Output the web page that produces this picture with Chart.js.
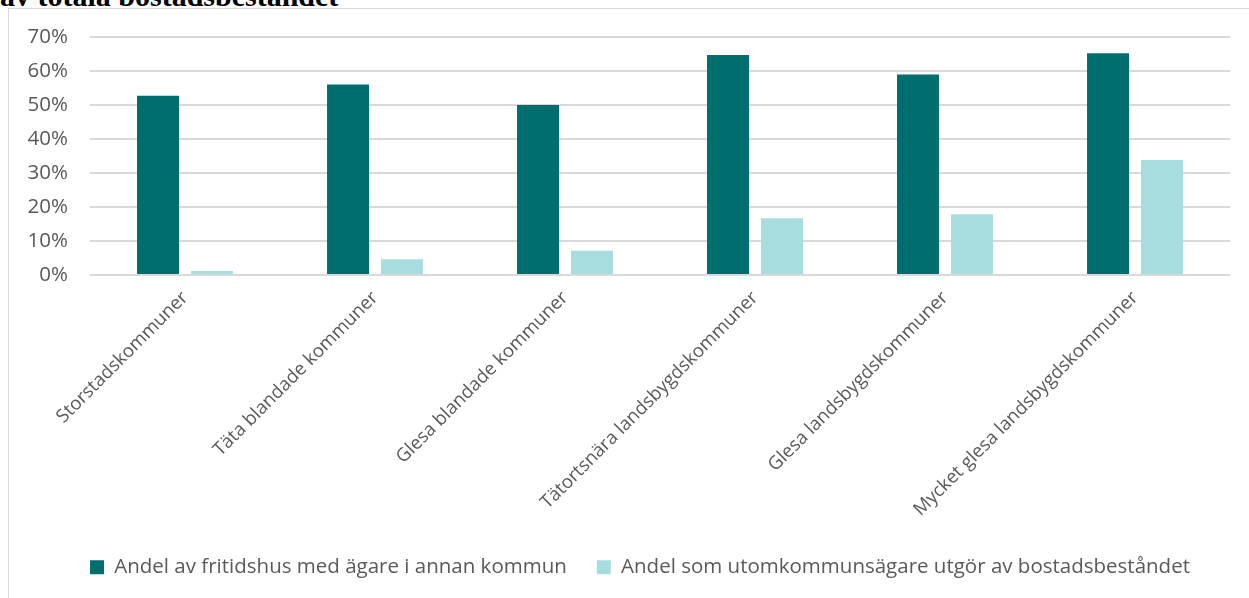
<!DOCTYPE html>
<html>
<head>
<meta charset="utf-8">
<script src="https://cdn.jsdelivr.net/npm/chart.js@4"></script>
<style>
    body { margin: 0; background: #ffffff; width: 1249px; height: 598px; overflow: hidden; position: relative; }
    #title {
        position: absolute; left: 0; top: -19px;
        font-family: 'Liberation Serif', serif; font-weight: bold; font-size: 30px;
        color: #000000; white-space: nowrap; line-height: 30px;
    }
    #frame {
        position: absolute; left: 8px; top: 8px; width: 1241px; height: 590px;
        border-left: 1px solid #d9d9d9; border-top: 1px solid #d9d9d9; box-sizing: border-box;
    }
    #chart { position: absolute; left: 9px; top: 9px; display: block; }
</style>
</head>
<body>
<div id="title">av totala bostadsbeståndet</div>
<div id="frame"></div>
<canvas id="chart" width="1240" height="589"></canvas>
<script>
// Kommungrupper och andelar (i procent)
const kommungrupper = [
    'Storstadskommuner',
    'Täta blandade kommuner',
    'Glesa blandade kommuner',
    'Tätortsnära landsbygdskommuner',
    'Glesa landsbygdskommuner',
    'Mycket glesa landsbygdskommuner'
];
const andelFritidshusAnnanKommun = [52.7, 56, 50, 64.7, 59, 65.2];
const andelUtomkommunsagare = [1.2, 4.6, 7.1, 16.7, 17.9, 33.8];
const yTicks = [0, 10, 20, 30, 40, 50, 60, 70];

const textColor = '#595959';
const gridColor = '#d9d9d9';

// legend: wide spacing between items, fixed height, nudged right like the original
const legendTweak = {
    id: 'legendTweak',
    beforeInit(chart) {
        const legend = chart.legend;
        const origFit = legend.fit;
        legend.fit = function() {
            origFit.call(this);
            this.height = 71;
        };
        const origDraw = legend.draw;
        legend.draw = function(area) {
            this.ctx.save();
            this.ctx.translate(16, 0);
            origDraw.call(this, area);
            this.ctx.restore();
        };
    }
};

const ctx = document.getElementById('chart').getContext('2d');
new Chart(ctx, {
    type: 'bar',
    data: {
        labels: kommungrupper,
        datasets: [
            {
                label: 'Andel av fritidshus med ägare i annan kommun',
                data: andelFritidshusAnnanKommun,
                backgroundColor: '#006d6f',
                categoryPercentage: 0.568,
                barPercentage: 0.778
            },
            {
                label: 'Andel som utomkommunsägare utgör av bostadsbeståndet',
                data: andelUtomkommunsagare,
                backgroundColor: '#a8dde0',
                categoryPercentage: 0.568,
                barPercentage: 0.778
            }
        ]
    },
    options: {
        responsive: false,
        animation: false,
        layout: {
            autoPadding: false,
            padding: { top: 28, right: 19, bottom: 0, left: 9 }
        },
        plugins: {
            tooltip: { enabled: false },
            legend: {
                position: 'bottom',
                labels: {
                    boxWidth: 14,
                    boxHeight: 14,
                    padding: 30,
                    color: textColor,
                    font: { family: 'Open Sans', size: 20.5 }
                }
            }
        },
        scales: {
            x: {
                grid: { display: false },
                border: { display: false },
                ticks: {
                    color: textColor,
                    font: { family: 'Open Sans', size: 18.5 },
                    minRotation: 45,
                    maxRotation: 45,
                    autoSkip: false,
                    padding: 4
                },
                afterFit: function(scale) {
                    scale.height = 589 - 266 - 71;
                }
            },
            y: {
                min: 0,
                max: 70,
                afterBuildTicks: function(scale) {
                    scale.ticks = yTicks.map(v => ({ value: v }));
                },
                grid: { color: gridColor, lineWidth: 2, drawTicks: false },
                border: { display: false },
                ticks: {
                    color: textColor,
                    font: { family: 'Open Sans', size: 20.5 },
                    padding: 22,
                    callback: v => v + '%'
                },
                afterFit: function(scale) {
                    scale.width = 72;
                    // tick padding should not push the plot area down
                    scale.paddingTop = 0;
                    scale.paddingBottom = 0;
                }
            }
        }
    },
    plugins: [legendTweak]
});
</script>
</body>
</html>
